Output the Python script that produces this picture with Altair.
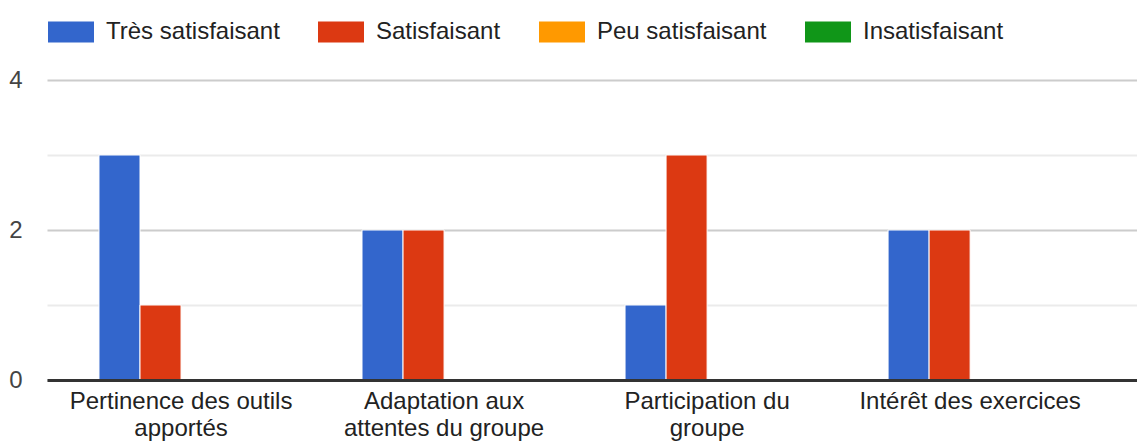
import altair as alt
import pandas as pd

categories = [
    "Pertinence des outils apportés",
    "Adaptation aux attentes du groupe",
    "Participation du groupe",
    "Intérêt des exercices",
]
category_lines = [
    ["Pertinence des outils", "apportés"],
    ["Adaptation aux", "attentes du groupe"],
    ["Participation du", "groupe"],
    ["Intérêt des exercices"],
]
series = ["Très satisfaisant", "Satisfaisant", "Peu satisfaisant", "Insatisfaisant"]
colors = ["#3366cc", "#dc3912", "#ff9900", "#109618"]

tres_satisfaisant = [3, 2, 1, 2]
satisfaisant = [1, 2, 3, 2]
peu_satisfaisant = [0, 0, 0, 0]
insatisfaisant = [0, 0, 0, 0]

y_ticks = [0, 1, 2, 3, 4]

values_by_series = [tres_satisfaisant, satisfaisant, peu_satisfaisant, insatisfaisant]
rows = []
for s, vals in zip(series, values_by_series):
    for c, v in zip(categories, vals):
        rows.append({"categorie": c, "serie": s, "valeur": v})
df = pd.DataFrame(rows)

FONT = "Liberation Sans"
FS = 24
W, H = 1090, 300

label_map = "{" + ", ".join(
    "'" + c + "': [" + ", ".join("'" + l + "'" for l in lines) + "]"
    for c, lines in zip(categories, category_lines)
) + "}"

bars = alt.Chart(df).mark_bar(stroke="white", strokeWidth=1).encode(
    x=alt.X(
        "categorie:N",
        sort=categories,
        scale=alt.Scale(paddingInner=0.376, paddingOuter=0.26, align=0.38),
        axis=alt.Axis(
            title=None,
            labelAngle=0,
            labelFont=FONT,
            labelFontSize=FS,
            labelColor="#222222",
            labelExpr=label_map + "[datum.label]",
            labelLineHeight=27,
            labelBaseline="top",
            labelPadding=9,
            labelLimit=400,
            ticks=False,
            domain=True,
            domainColor="#333333",
            domainWidth=3,
            grid=False,
            zindex=1,
        ),
    ),
    xOffset=alt.XOffset("serie:N", sort=series, scale=alt.Scale(domain=series, paddingInner=0, paddingOuter=0)),
    y=alt.Y(
        "valeur:Q",
        scale=alt.Scale(domain=[0, 4], nice=False),
        axis=alt.Axis(
            title=None,
            values=y_ticks,
            labelExpr="datum.value % 2 == 0 ? datum.label : ''",
            labelFont=FONT,
            labelFontSize=FS,
            labelColor="#444444",
            labelPadding=25,
            ticks=False,
            domain=False,
            grid=True,
            gridColor={"condition": {"test": "datum.value % 2 == 0", "value": "#cccccc"}, "value": "#ebebeb"},
            gridWidth=2,
        ),
    ),
    color=alt.Color(
        "serie:N",
        sort=series,
        scale=alt.Scale(domain=series, range=colors),
        legend=alt.Legend(
            title=None,
            orient="none",
            legendX=1,
            legendY=-71,
            direction="horizontal",
            columns=4,
            symbolType="M-1,-0.46L1,-0.46L1,0.46L-1,0.46Z",
            symbolSize=2116,
            symbolStrokeWidth=0,
            symbolOpacity=1,
            labelFont=FONT,
            labelFontSize=FS,
            labelColor="#222222",
            labelOffset=12,
            columnPadding=38,
            labelLimit=400,
        ),
    ),
)

chart = bars.properties(
    width=W,
    height=H,
    autosize=alt.AutoSizeParams(type="none"),
    padding={"left": 39, "top": 72, "right": 0, "bottom": 63},
).configure_view(stroke=None)

chart.save("out.html", embed_options={"renderer": "svg", "actions": False})
